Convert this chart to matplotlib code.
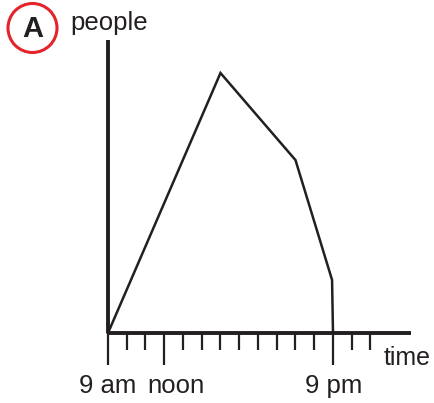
import matplotlib.pyplot as plt
from matplotlib.patches import Circle

plt.rcParams["font.family"] = ["Liberation Sans", "DejaVu Sans"]

# hours after 9 am and relative crowd size
hours = [0, 6, 10, 11.95, 12]
people = [0, 100, 66.5, 20.4, 0]

tick_hours = list(range(0, 15))
major_hours = [0, 3, 12]
tick_labels = ["9 am", "noon", "9 pm"]
label_offsets = [0, 0.63, 0.05]

ink = "#231f20"
PX_X = 18.75   # px per hour
PX_Y = 2.6     # px per unit of people

fig = plt.figure(figsize=(4.35, 4.03), dpi=100)
ax = fig.add_axes([0, 0, 1, 1])
# origin at (108, 333) px from the top-left corner
ax.set_xlim(-108 / PX_X, (435 - 108) / PX_X)
ax.set_ylim(-70 / PX_Y, 333 / PX_Y)
ax.axis("off")

# axes
ax.plot([0, 0], [0, 293 / PX_Y], color=ink, lw=2.8, solid_capstyle="butt")
ax.plot([0, 303 / PX_X], [0, 0], color=ink, lw=2.8, solid_capstyle="butt")

# hour ticks below the time axis
for h in tick_hours:
    length = 32 if h in major_hours else 17
    ax.plot([h, h], [0, -length / PX_Y], color=ink, lw=1.6,
            solid_capstyle="butt")

for h, text, off in zip(major_hours, tick_labels, label_offsets):
    ax.text(h + off, -60 / PX_Y, text, ha="center", va="baseline",
            fontsize=18.5, color=ink)

ax.text((384 - 108) / PX_X, -32 / PX_Y, "time", ha="left", va="baseline",
        fontsize=18, color=ink)
ax.text((70 - 108) / PX_X, 303 / PX_Y, "people", ha="left", va="baseline",
        fontsize=18.5, color=ink)

# crowd over the day
ax.plot(hours, people, color=ink, lw=1.8, solid_joinstyle="miter")

# panel badge
badge = Circle((32.5, 403 - 28), 24.5, transform=None, facecolor="white",
               edgecolor="#e3242b", lw=2.2)
fig.patches.append(badge)
fig.text(32.5 / 435, 1 - 29 / 403, "A", ha="center", va="center",
         fontsize=21, fontweight="bold", color=ink)

fig.savefig("out.png", dpi=100)
